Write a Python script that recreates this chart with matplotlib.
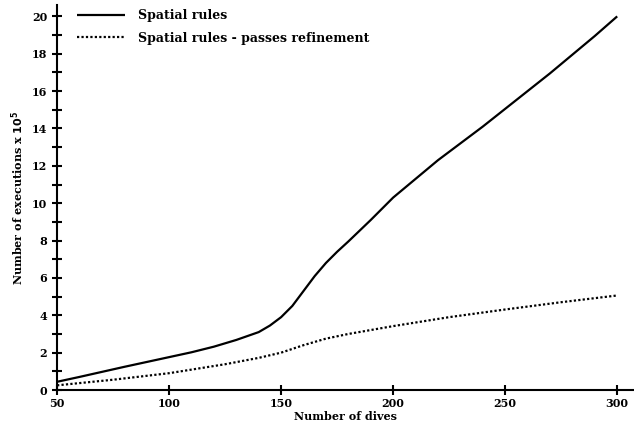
import matplotlib
matplotlib.use("Agg")
import matplotlib.pyplot as plt
from matplotlib.ticker import MultipleLocator

dives_solid = [50, 60, 70, 80, 90, 100, 110, 120, 130, 140, 145, 150, 155, 160, 165,
               170, 175, 180, 190, 200, 210, 220, 230, 240, 250, 260, 270, 280, 290, 300]
spatial_rules = [0.44, 0.7, 0.97, 1.24, 1.5, 1.76, 2.02, 2.32, 2.68, 3.1, 3.45, 3.9, 4.5,
                 5.3, 6.1, 6.8, 7.4, 7.95, 9.1, 10.3, 11.3, 12.3, 13.2, 14.1, 15.05,
                 16.0, 16.95, 17.95, 18.95, 20.0]

dives_dot = [50, 75, 100, 125, 140, 150, 160, 170, 180, 200, 225, 250, 275, 300]
passes_refinement = [0.25, 0.55, 0.9, 1.38, 1.72, 2.0, 2.4, 2.75, 3.0, 3.42, 3.9, 4.31, 4.7, 5.06]

plt.rcParams['font.family'] = ['DejaVu Serif']
plt.rcParams['font.weight'] = 'bold'

fig = plt.figure(figsize=(6.34, 4.30), dpi=100)
ax = fig.add_axes([0.09, 0.093, 0.91, 0.895])

ax.plot(dives_solid, spatial_rules, color='black', lw=1.6, label='Spatial rules',
        solid_capstyle='butt')
ax.plot(dives_dot, passes_refinement, color='black', lw=1.6, ls=(0, (1, 1)),
        label='Spatial rules - passes refinement')

ax.set_xlim(50, 307.5)
ax.set_ylim(0, 20.6)
ax.spines['top'].set_visible(False)
ax.spines['right'].set_visible(False)
ax.spines['left'].set_linewidth(1.5)
ax.spines['bottom'].set_linewidth(1.5)

ax.set_xticks([50, 100, 150, 200, 250, 300])
ax.yaxis.set_major_locator(MultipleLocator(2))
ax.yaxis.set_minor_locator(MultipleLocator(1))
ax.tick_params(axis='both', which='both', direction='inout', width=1.5, labelsize=8)
ax.tick_params(axis='both', which='major', length=7)
ax.tick_params(axis='y', which='minor', length=7)
ax.tick_params(axis='x', pad=2)

ax.set_xlabel('Number of dives', fontsize=8, fontweight='bold', labelpad=2)
ax.set_ylabel('Number of executions x $\\mathbf{10^5}$', fontsize=8, fontweight='bold')

leg = fig.legend(*ax.get_legend_handles_labels(), loc='upper left', frameon=False,
                 fontsize=9, handlelength=3.85, borderpad=0.0, borderaxespad=0.0,
                 bbox_to_anchor=(77 / 634, 1 - 9 / 430), labelspacing=0.78,
                 handletextpad=1.0)

fig.savefig('out.png', dpi=100)
